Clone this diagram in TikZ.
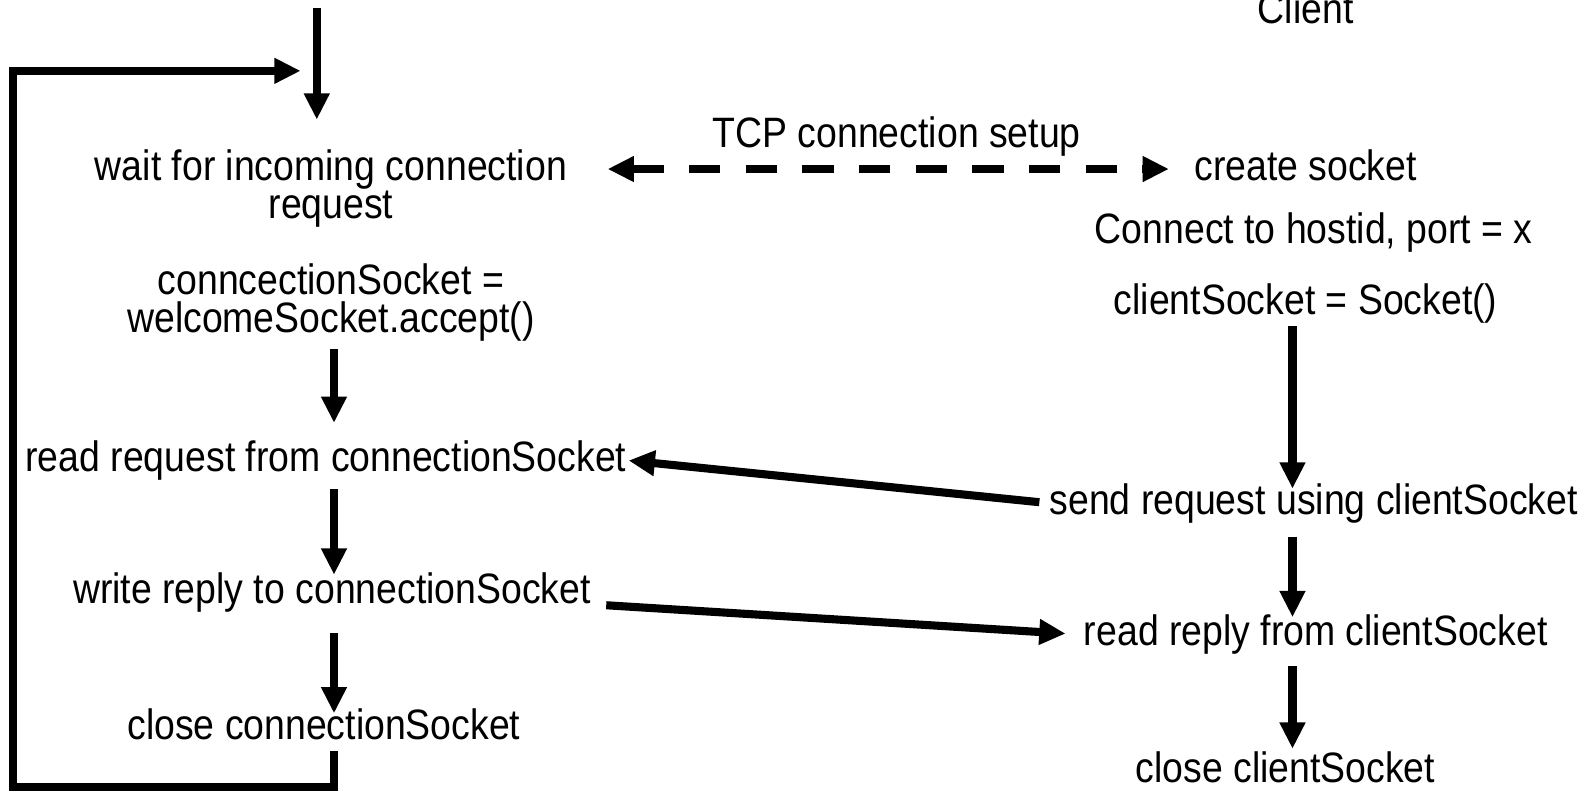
\documentclass[tikz,border=0pt]{standalone}
\usepackage{fontspec}
\setmainfont{Liberation Sans}[FakeStretch=0.88]
\usetikzlibrary{arrows.meta}
\tikzset{
	txt/.style={font=\fontsize{42}{38}\selectfont,inner sep=2pt,text height=31pt,text depth=9pt},
	blk/.style={font=\fontsize{42}{38}\selectfont,inner sep=2pt,align=center},
	flow/.style={->,line width=8pt},
	setup/.style={<->,line width=8pt,dash pattern=on 31pt off 25pt}
}
\begin{document}
\begin{tikzpicture}[x=1pt,y=-1pt,>={Triangle[length=26pt,width=24pt]},line join=miter]
				\useasboundingbox (0,0) rectangle (1568,782);
				\path
				(330,0)coordinate(sx)
				(1277,0)coordinate(cx)
				(313,8)coordinate(top)
				(13,778)coordinate(loopcorner)
				(297,70)coordinate(loopend)
				(1290,12)node[txt](client){Client}
				(327,186)node[blk](wait){wait for incoming connection\\request}
				(886,135)node[txt](tcp){TCP connection setup}
				(1290,167)node[txt](create){create socket}
				(1298,230)node[txt](connect){Connect to hostid, port = x}
				(1290,300)node[txt](csock){clientSocket = Socket()}
				(327,299)node[blk](accept){conncectionSocket =\\welcomeSocket.accept()}
				(322,455)node[txt](readreq){read request from connectionSocket}
				(328,585)node[txt](writerep){write reply to connectionSocket}
				(320,720)node[txt](closeconn){close connectionSocket}
				(1298,497)node[txt](sendreq){send request using clientSocket}
				(1300,627)node[txt](readrep){read reply from clientSocket}
				(1270,762)node[txt](closeclient){close clientSocket}
				;
				\draw[flow,shorten >=27pt](top)--(wait.north -| top);
				\draw[setup,shorten <=38pt,shorten >=23pt](wait.east |- create.west)--(create.west);
				\draw[flow,shorten <=5pt,shorten >=15pt](accept.south -| sx)--(readreq.north -| sx);
				\draw[flow,shorten <=6pt,shorten >=-5pt](readreq.south -| sx)--(writerep.north -| sx);
				\draw[flow,shorten <=18pt,shorten >=-7pt](writerep.south -| sx)--(closeconn.north -| sx);
				\draw[flow](closeconn.south -| sx)|-(loopcorner)|-(loopend);
				\draw[flow,shorten >=-8pt](csock.south -| cx)--(sendreq.north -| cx);
				\draw[flow,shorten <=11pt,shorten >=-5pt](sendreq.south -| cx)--(readrep.north -| cx);
				\draw[flow,shorten <=9pt,shorten >=0pt](readrep.south -| cx)--(closeclient.north -| cx);
				\draw[flow,shorten <=8pt](sendreq.west)--(readreq.east);
				\draw[flow,shorten >=16pt]([xshift=13pt,yshift=-13pt]writerep.east)--(readrep.west);
			\end{tikzpicture}
\end{document}
